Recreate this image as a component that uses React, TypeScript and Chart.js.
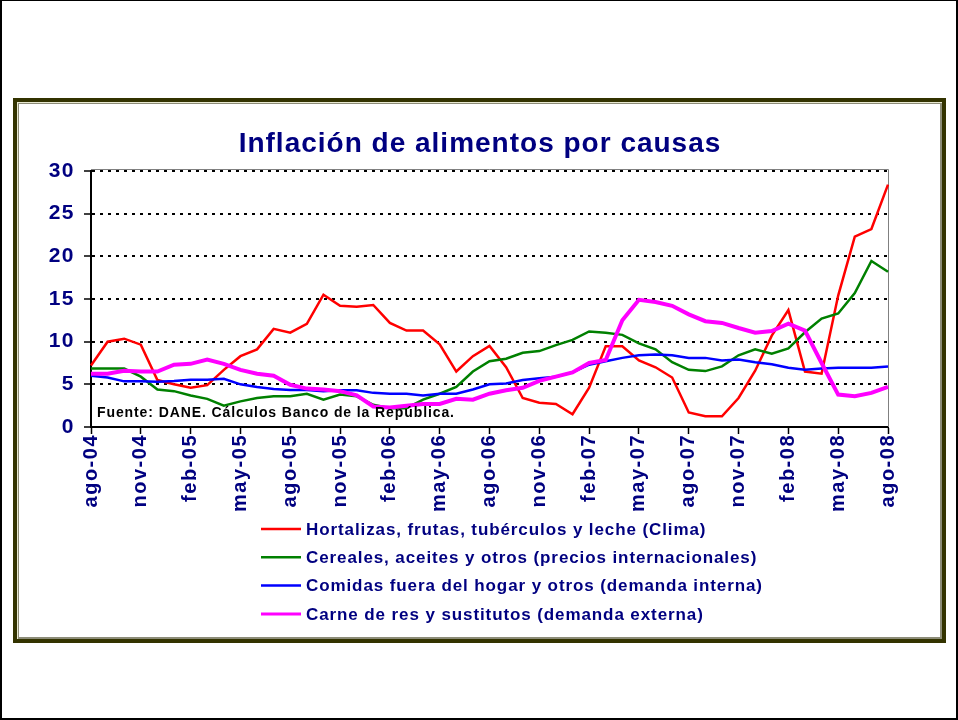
import { useEffect, useRef } from 'react';
import { Chart, registerables } from 'chart.js';

Chart.register(...registerables);

const months = [
  'ago-04', 'sep-04', 'oct-04', 'nov-04', 'dic-04',
  'ene-05', 'feb-05', 'mar-05', 'abr-05', 'may-05', 'jun-05', 'jul-05', 'ago-05', 'sep-05', 'oct-05', 'nov-05', 'dic-05',
  'ene-06', 'feb-06', 'mar-06', 'abr-06', 'may-06', 'jun-06', 'jul-06', 'ago-06', 'sep-06', 'oct-06', 'nov-06', 'dic-06',
  'ene-07', 'feb-07', 'mar-07', 'abr-07', 'may-07', 'jun-07', 'jul-07', 'ago-07', 'sep-07', 'oct-07', 'nov-07', 'dic-07',
  'ene-08', 'feb-08', 'mar-08', 'abr-08', 'may-08', 'jun-08', 'jul-08', 'ago-08',
];

const clima = [
  7.2, 10.0, 10.35, 9.65, 5.5, 5.0, 4.6, 4.9, 6.7, 8.3, 9.1, 11.5, 11.05, 12.1, 15.5, 14.2, 14.1,
  14.3, 12.2, 11.3, 11.3, 9.7, 6.5, 8.3, 9.5, 7.0, 3.4, 2.85, 2.7, 1.5, 4.6, 9.45, 9.45,
  7.8, 7.0, 5.8, 1.7, 1.25, 1.25, 3.4, 6.6, 10.7, 13.7, 6.5, 6.25, 15.4, 22.3, 23.2, 28.4,
];

const preciosInternacionales = [
  6.85, 6.85, 6.85, 5.9, 4.4, 4.2, 3.7, 3.3, 2.5, 3.0, 3.4, 3.6, 3.6, 3.9, 3.2, 3.8, 3.6,
  2.6, 2.2, 2.2, 3.2, 3.9, 4.7, 6.5, 7.7, 8.0, 8.7, 8.9, 9.6, 10.2, 11.2, 11.05, 10.8,
  9.8, 9.1, 7.6, 6.7, 6.55, 7.1, 8.4, 9.1, 8.6, 9.2, 11.1, 12.7, 13.3, 15.7, 19.45, 18.2,
];

const demandaInterna = [
  6.0, 5.8, 5.35, 5.35, 5.3, 5.4, 5.55, 5.55, 5.65, 5.0, 4.7, 4.45, 4.35, 4.35, 4.2, 4.3, 4.3,
  4.0, 3.9, 3.9, 3.7, 3.9, 3.9, 4.4, 5.0, 5.1, 5.5, 5.7, 5.9, 6.4, 7.3, 7.7, 8.1,
  8.4, 8.5, 8.4, 8.1, 8.1, 7.8, 7.9, 7.6, 7.35, 6.95, 6.7, 6.85, 6.95, 6.95, 6.95, 7.1,
];

const demandaExterna = [
  6.25, 6.25, 6.6, 6.5, 6.5, 7.3, 7.4, 7.9, 7.4, 6.7, 6.25, 6.0, 4.95, 4.5, 4.4, 4.2, 3.7,
  2.4, 2.3, 2.5, 2.7, 2.7, 3.3, 3.2, 3.9, 4.3, 4.6, 5.4, 5.9, 6.4, 7.5, 7.85, 12.5,
  14.9, 14.65, 14.2, 13.2, 12.4, 12.2, 11.6, 11.05, 11.25, 12.1, 11.3, 7.5, 3.8, 3.6, 4.0, 4.7,
];

const seriesLabels = [
  'Hortalizas, frutas, tubérculos y leche (Clima)',
  'Cereales, aceites y otros (precios internacionales)',
  'Comidas fuera del hogar y otros (demanda interna)',
  'Carne de res y sustitutos (demanda externa)',
];

const chartTitle = 'Inflación de alimentos por causas';
const sourceNote = 'Fuente: DANE. Cálculos Banco de la República.';

const FONT = '"Liberation Sans", Arial, sans-serif';
const NAVY = '#000080';

export default function App() {
  const ref = useRef<HTMLCanvasElement>(null);

  useEffect(() => {
    const canvas = ref.current;
    if (!canvas) return;

    const overlay = {
      id: 'overlay',
      beforeDraw(chart: any) {
        chart.ctx.letterSpacing = '1.5px';
      },
      beforeDatasetsDraw(chart: any) {
        const { ctx, chartArea } = chart;
        ctx.save();
        ctx.strokeStyle = '#808080';
        ctx.lineWidth = 1;
        ctx.beginPath();
        ctx.moveTo(chartArea.left, chartArea.top - 1.5);
        ctx.lineTo(chartArea.right + 0.5, chartArea.top - 1.5);
        ctx.lineTo(chartArea.right + 0.5, chartArea.bottom);
        ctx.stroke();
        ctx.restore();
      },
      afterDraw(chart: any) {
        const { ctx, chartArea } = chart;
        ctx.save();
        // title
        ctx.letterSpacing = '1px';
        ctx.font = `bold 28px ${FONT}`;
        ctx.fillStyle = NAVY;
        ctx.textAlign = 'center';
        ctx.textBaseline = 'middle';
        ctx.fillText(chartTitle, chart.width / 2 + 1, 144);
        // source note
        ctx.letterSpacing = '0.9px';
        ctx.font = `bold 14px ${FONT}`;
        ctx.fillStyle = '#000000';
        ctx.textAlign = 'left';
        ctx.textBaseline = 'alphabetic';
        ctx.fillText(sourceNote, chartArea.left + 6, chartArea.bottom - 10);
        // legend
        ctx.letterSpacing = '0.9px';
        ctx.font = `bold 17px ${FONT}`;
        ctx.textBaseline = 'middle';
        chart.data.datasets.forEach((ds: any, k: number) => {
          const y = chartArea.bottom + 102 + k * 28.3;
          const x0 = chartArea.left + 170;
          ctx.strokeStyle = ds.borderColor;
          ctx.lineWidth = Math.min(ds.borderWidth, 3);
          ctx.beginPath();
          ctx.moveTo(x0, y);
          ctx.lineTo(x0 + 40, y);
          ctx.stroke();
          ctx.fillStyle = NAVY;
          ctx.fillText(ds.label, x0 + 45, y + 1);
        });
        ctx.restore();
      },
    };

    const mk = (label: string, data: number[], color: string, width: number, order: number) => ({
      label,
      data,
      borderColor: color,
      backgroundColor: color,
      borderWidth: width,
      pointRadius: 0,
      tension: 0,
      fill: false,
      order,
    });

    const chart = new Chart(canvas, {
      type: 'line',
      data: {
        labels: months,
        datasets: [
          mk(seriesLabels[0], clima, '#FF0000', 2.5, 4),
          mk(seriesLabels[1], preciosInternacionales, '#008000', 2.5, 3),
          mk(seriesLabels[2], demandaInterna, '#0000FF', 2.5, 2),
          mk(seriesLabels[3], demandaExterna, '#FF00FF', 4, 1),
        ],
      },
      options: {
        responsive: false,
        animation: false,
        events: [],
        layout: { padding: { left: 0, right: 70, top: 171, bottom: 203 } },
        plugins: {
          legend: { display: false },
          title: { display: false },
          tooltip: { enabled: false },
        },
        scales: {
          x: {
            type: 'category',
            offset: false,
            grid: {
              drawOnChartArea: false,
              drawTicks: true,
              tickLength: 7,
              tickWidth: 1.5,
              color: (c: any) => (c.index % 3 === 0 ? '#000000' : 'rgba(0,0,0,0)'),
              tickColor: (c: any) => (c.index % 3 === 0 ? '#000000' : 'rgba(0,0,0,0)'),
            },
            border: { display: true, color: '#000000', width: 2 },
            ticks: {
              autoSkip: false,
              maxRotation: 90,
              minRotation: 90,
              padding: 0,
              color: NAVY,
              font: { family: FONT, size: 20, weight: 'bold' },
              callback: (_v: any, i: number) => (i % 3 === 0 ? months[i] : ''),
            },
            afterFit: (s: any) => {
              s.height = 90;
            },
          },
          y: {
            min: 0,
            max: 30,
            ticks: {
              stepSize: 5,
              padding: 9,
              color: NAVY,
              font: { family: FONT, size: 21, weight: 'bold' },
            },
            grid: {
              color: '#000000',
              lineWidth: 2,
              tickLength: 7,
              tickWidth: 1.5,
              tickColor: '#000000',
              tickBorderDash: [],
            },
            border: { display: true, color: '#000000', width: 2, dash: [3, 5] },
            afterFit: (s: any) => {
              s.width = 91;
            },
          },
        },
      } as any,
      plugins: [overlay],
    });

    return () => chart.destroy();
  }, []);

  return (
    <div style={{ position: 'fixed', left: 0, top: 0, width: 958, height: 720, background: '#ffffff' }}>
      <div
        style={{
          position: 'absolute', left: 0, top: 0, width: 958, height: 720, boxSizing: 'border-box',
          borderLeft: '2px solid #000', borderRight: '2px solid #000', borderBottom: '2px solid #000', borderTop: '1px solid #000',
        }}
      />
      <div
        style={{
          position: 'absolute', left: 13, top: 98, width: 933, height: 545, boxSizing: 'border-box',
          border: '4px solid #333300',
          boxShadow: 'inset 1px 1px 0 #e8e8d0, inset 2px 2px 0 #8c8c78, inset -2px -2px 0 #8c8c78',
        }}
      />
      <canvas ref={ref} width={958} height={720} style={{ position: 'absolute', left: 0, top: 0, display: 'block' }} />
    </div>
  );
}
